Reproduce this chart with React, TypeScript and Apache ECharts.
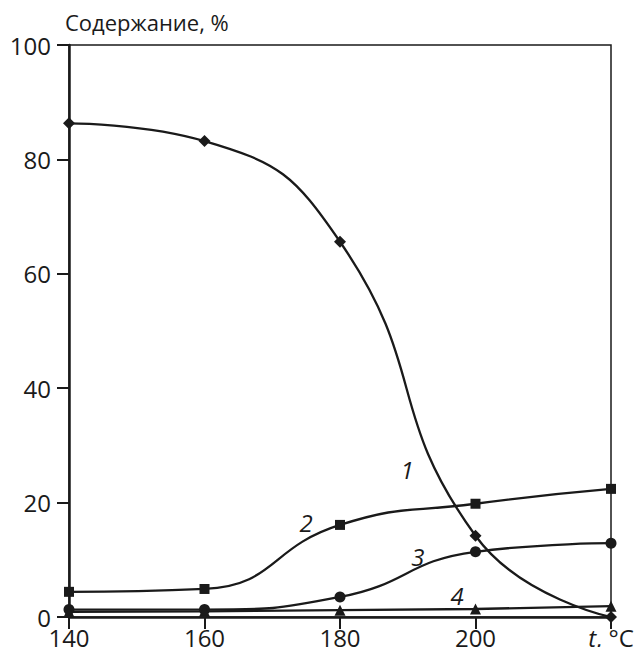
import React, { useEffect, useRef } from "react";
import * as echarts from "echarts";

const temps = [140, 160, 180, 200, 220];
const series1 = [86.3, 83.2, 65.6, 14.2, 0];
const series2 = [4.4, 4.9, 16.1, 19.8, 22.4];
const series3 = [1.3, 1.3, 3.5, 11.4, 12.9];
const series4 = [0.9, 1.0, 1.2, 1.4, 1.9];
const yTicks = [0, 20, 40, 60, 80, 100];
const curveLabels = [
  { text: "1", x: 189.9, y: 25.7 },
  { text: "2", x: 175, y: 16.6 },
  { text: "3", x: 191.5, y: 10.5 },
  { text: "4", x: 197.3, y: 3.8 },
];

const FONT = "'Open Sans', sans-serif";
const INK = "#1a1a1a";

export default function App() {
  const ref = useRef<HTMLDivElement>(null);
  useEffect(() => {
    if (!ref.current) return;
    const chart = echarts.init(ref.current, null, { renderer: "svg" });
    const mk = (data: number[], symbol: string, size: number, smooth: number) => ({
      type: "line",
      data: temps.map((t, i) => [t, data[i]]),
      smooth,
      symbol,
      symbolSize: size,
      showAllSymbol: true,
      lineStyle: { color: INK, width: 2.3 },
      itemStyle: { color: INK },
      z: 3,
    });
    chart.setOption({
      animation: false,
      grid: {
        left: 69,
        right: 32,
        top: 45,
        bottom: 38,
        show: true,
        borderColor: INK,
        borderWidth: 1.5,
        containLabel: false,
      },
      xAxis: {
        type: "value",
        min: 140,
        max: 220,
        interval: 20,
        axisLine: { show: true, lineStyle: { color: INK, width: 2.5 } },
        axisTick: { show: true, inside: false, length: 12, lineStyle: { color: INK, width: 2 } },
        splitLine: { show: false },
        axisLabel: {
          margin: 8,
          fontSize: 24,
          fontFamily: FONT,
          color: INK,
          formatter: (v: number) => (v === 220 ? "{i|t}, °C" : String(v)),
          rich: {
            i: { fontStyle: "italic", fontSize: 24, fontFamily: FONT, color: INK },
          },
        },
      },
      yAxis: {
        type: "value",
        min: 0,
        max: 100,
        interval: 20,
        name: "Содержание, %",
        nameLocation: "end",
        nameGap: 12,
        nameTextStyle: { fontSize: 22, fontFamily: FONT, color: INK, align: "left", padding: [0, 0, 0, -4] },
        axisLine: { show: true, lineStyle: { color: INK, width: 2.5 } },
        axisTick: { show: true, inside: false, length: 12, lineStyle: { color: INK, width: 2 } },
        splitLine: { show: false },
        axisLabel: {
          margin: 18,
          fontSize: 24,
          fontFamily: FONT,
          color: INK,
          formatter: (v: number) => (yTicks.includes(v) ? String(v) : ""),
        },
      },
      series: [
        mk(series1, "diamond", 12, 0.5),
        mk(series2, "rect", 10, 0.5),
        mk(series3, "circle", 11, 0.5),
        mk(series4, "triangle", 11, 0),
      ],
    });
    const graphics = curveLabels.map((l) => {
      const p = chart.convertToPixel({ gridIndex: 0 }, [l.x, l.y]) as number[];
      return {
        type: "text",
        x: p[0],
        y: p[1],
        z: 10,
        style: {
          text: l.text,
          fontSize: 24,
          fontStyle: "italic",
          fontFamily: FONT,
          fill: INK,
          align: "center",
          verticalAlign: "middle",
        },
      };
    });
    chart.setOption({ graphic: graphics });
    return () => chart.dispose();
  }, []);
  return <div ref={ref} style={{ width: 643, height: 655, margin: -8 }} />;
}
